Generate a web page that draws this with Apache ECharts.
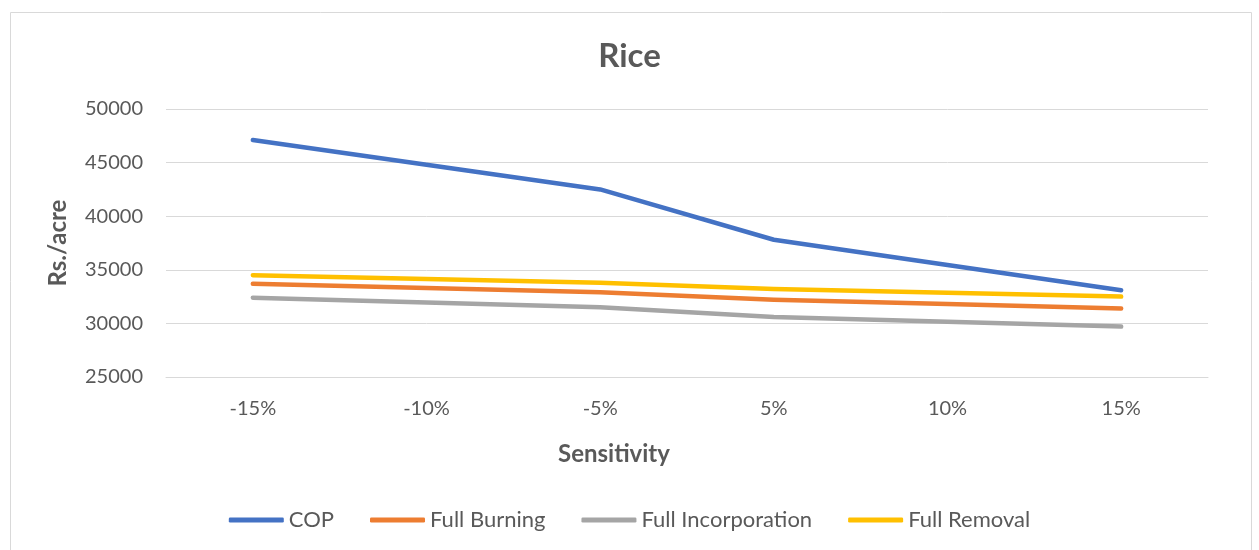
<!DOCTYPE html>
<html><head><meta charset="utf-8">
<script src="https://cdn.jsdelivr.net/npm/echarts@6/dist/echarts.min.js"></script>
<style>html,body{margin:0;padding:0;background:#fff}#c{width:1259px;height:550px}</style>
</head><body><div id="c"></div>
<script>
const categories = ['-15%', '-10%', '-5%', '5%', '10%', '15%'];
const cop = [47100, 44800, 42500, 37800, 35450, 33100];
const fullBurning = [33700, 33300, 32900, 32200, 31800, 31400];
const fullIncorporation = [32400, 31950, 31500, 30600, 30150, 29700];
const fullRemoval = [34500, 34150, 33800, 33200, 32850, 32500];
const yTicks = [25000, 30000, 35000, 40000, 45000, 50000];

const font = 'Lato, "Open Sans", sans-serif';
const chart = echarts.init(document.getElementById('c'));
function s(name, data, color) {
  return { name, type: 'line', data, symbol: 'none', smooth: false,
    lineStyle: { color, width: 4.5, cap: 'round', join: 'round' }, itemStyle: { color } };
}
chart.setOption({
  animation: false,
  graphic: [{ type: 'rect', left: 8, top: 10, shape: { width: 1241, height: 560 },
    style: { fill: 'none', stroke: '#d9d9d9', lineWidth: 1 } }],
  title: { text: 'Rice', left: 'center', top: 35,
    textStyle: { fontFamily: font, fontSize: 33, fontWeight: 'bold', color: '#595959' } },
  grid: { left: 166, right: 51, top: 109, bottom: 173 },
  legend: { top: 504, left: 'center', itemWidth: 55, itemHeight: 5, itemGap: 36, icon: 'roundRect',
    textStyle: { fontFamily: font, fontSize: 22, color: '#595959', padding: [0, 0, 0, 0] } },
  xAxis: { type: 'category', data: categories, boundaryGap: true,
    name: 'Sensitivity', nameLocation: 'middle', nameGap: 65,
    nameTextStyle: { fontFamily: font, fontSize: 24, fontWeight: 'bold', color: '#595959',
      padding: [0, 146, 0, 0] },
    axisLine: { show: true, lineStyle: { color: '#d9d9d9' } }, axisTick: { show: false },
    axisLabel: { fontFamily: font, fontSize: 20, color: '#595959', margin: 22 } },
  yAxis: { type: 'value', min: yTicks[0], max: yTicks[yTicks.length - 1], interval: 5000,
    name: 'Rs./acre', nameLocation: 'middle', nameGap: 96, nameRotate: 90,
    nameTextStyle: { fontFamily: font, fontSize: 24, fontWeight: 'bold', color: '#595959' },
    axisLine: { show: false }, axisTick: { show: false },
    splitLine: { lineStyle: { color: '#d9d9d9', width: 1 } },
    axisLabel: { fontFamily: font, fontSize: 20, color: '#595959', margin: 23,
      formatter: v => String(v) } },
  series: [
    s('COP', cop, '#4472c4'),
    s('Full Burning', fullBurning, '#ed7d31'),
    s('Full Incorporation', fullIncorporation, '#a5a5a5'),
    s('Full Removal', fullRemoval, '#ffc000')
  ]
});
</script></body></html>
